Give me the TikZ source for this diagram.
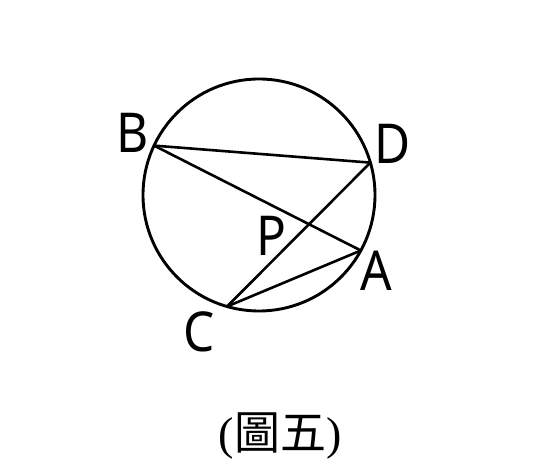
\documentclass[tikz,border=0pt]{standalone}
\usepackage{fontspec}
\setmainfont{Noto Sans}
\newfontfamily\lblfont[FakeStretch=0.9]{Noto Sans}
\newfontfamily\cjk{Noto Sans CJK TC}
\newfontfamily\serifp{Liberation Serif}
\usetikzlibrary{calc}
\begin{document}
\begin{tikzpicture}[x=1pt,y=1pt,
  geo/.style={line width=2.6pt,black,line join=round,line cap=round},
  lbl/.style={font=\lblfont\fontsize{55}{55}\selectfont,inner sep=0pt}]
\useasboundingbox (0,0) rectangle (540,470);
\coordinate (O) at (259,275);
\draw[geo,line width=2.9pt] (O) circle (116);
\coordinate (B) at ($(O)+(154.8:116)$);
\coordinate (D) at ($(O)+(16.2:116)$);
\coordinate (A) at ($(O)+(-28.6:116)$);
\coordinate (C) at ($(O)+(-106:116)$);
\draw[geo] (B) -- (D);
\draw[geo] (B) -- (A);
\draw[geo] (C) -- (D);
\draw[geo] (C) -- (A);
\node[lbl] (lB) at (133,337) {B};
\node[lbl] (lD) at (393,326) {D};
\node[lbl] (lA) at (376,199) {A};
\node[lbl] (lC) at (199,138) {C};
\node[lbl] (lP) at (271,234) {P};
\node[inner sep=0pt,font=\fontsize{46}{46}\selectfont] (cap) at (280,34) {\serifp(\cjk 圖五\serifp)};
\end{tikzpicture}
\end{document}
